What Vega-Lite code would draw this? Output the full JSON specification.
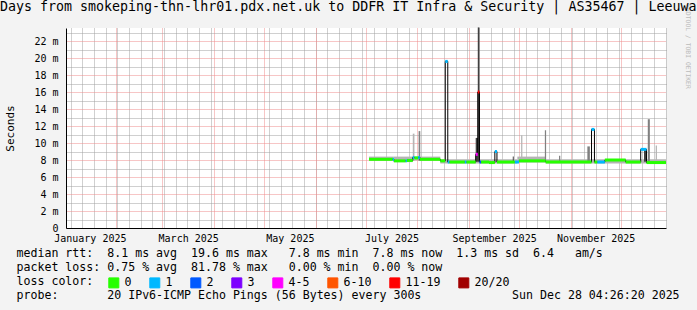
{
  "$schema": "https://vega.github.io/schema/vega-lite/v6.json",
  "width": 600,
  "height": 200,
  "autosize": {"type": "none"},
  "padding": {"left": 66, "top": 28, "right": 31, "bottom": 82},
  "background": "#f3f3f3",
  "config": {
    "view": {"fill": "white", "stroke": null},
    "font": "DejaVu Sans Mono",
    "axis": {"labelFont": "DejaVu Sans Mono", "titleFont": "DejaVu Sans Mono", "labelColor": "black", "titleColor": "black", "titleFontWeight": "normal", "labelFontSize": 10}
  },
  "title": {
    "text": "Days from smokeping-thn-lhr01.pdx.net.uk to DDFR IT Infra & Security | AS35467 | Leeuwarden",
    "anchor": "start", "frame": "group", "dx": -66, "dy": 25, "offset": 4,
    "font": "DejaVu Sans Mono", "fontSize": 13.3, "fontWeight": "normal", "color": "black", "baseline": "alphabetic"
  },
  "resolve": {"axis": {"x": "independent", "y": "independent"}},
  "datasets": {
    "smoke": [
      {"t": "2025-07-03T00:00", "t2": "2025-07-17T12:00", "lo": 0.00795, "hi": 0.0084, "shade": "light"},
      {"t": "2025-07-17T12:00", "t2": "2025-07-29T06:00", "lo": 0.00775, "hi": 0.0084, "shade": "light"},
      {"t": "2025-07-29T06:00", "t2": "2025-08-14T18:00", "lo": 0.00795, "hi": 0.0084, "shade": "light"},
      {"t": "2025-08-14T18:00", "t2": "2025-09-30T00:00", "lo": 0.0076, "hi": 0.0081, "shade": "light"},
      {"t": "2025-09-30T00:00", "t2": "2025-10-17T00:00", "lo": 0.0077, "hi": 0.0084, "shade": "light"},
      {"t": "2025-10-17T00:00", "t2": "2025-12-28T04:26", "lo": 0.0076, "hi": 0.0081, "shade": "light"},
      {"t": "2025-07-29T06:00", "t2": "2025-07-30T06:00", "lo": 0.0079, "hi": 0.0111, "shade": "light"},
      {"t": "2025-08-01T18:00", "t2": "2025-08-02T18:00", "lo": 0.0079, "hi": 0.0114, "shade": "mid"},
      {"t": "2025-09-05T00:00", "t2": "2025-09-07T06:00", "lo": 0.0078, "hi": 0.0106, "shade": "dark"},
      {"t": "2025-09-06T06:00", "t2": "2025-09-07T06:00", "lo": 0.008, "hi": 0.0236, "shade": "dark"},
      {"t": "2025-09-27T06:00", "t2": "2025-09-27T20:00", "lo": 0.0078, "hi": 0.0084, "shade": "dark"},
      {"t": "2025-10-02T06:00", "t2": "2025-10-03T00:00", "lo": 0.0078, "hi": 0.0109, "shade": "light"},
      {"t": "2025-10-16T12:00", "t2": "2025-10-17T06:00", "lo": 0.0078, "hi": 0.0115, "shade": "mid"},
      {"t": "2025-10-25T00:00", "t2": "2025-10-25T18:00", "lo": 0.0078, "hi": 0.0085, "shade": "mid"},
      {"t": "2025-11-11T00:00", "t2": "2025-11-12T12:00", "lo": 0.0078, "hi": 0.0096, "shade": "mid"},
      {"t": "2025-12-15T00:00", "t2": "2025-12-16T12:00", "lo": 0.0078, "hi": 0.0092, "shade": "dark"},
      {"t": "2025-12-17T06:00", "t2": "2025-12-18T12:00", "lo": 0.0078, "hi": 0.0128, "shade": "mid"},
      {"t": "2025-12-22T00:00", "t2": "2025-12-22T18:00", "lo": 0.0078, "hi": 0.0097, "shade": "light"}
    ],
    "median": [
      {"t": "2025-07-03T00:00", "t2": "2025-07-17T06:00", "rtt": 0.00808, "loss": "0"},
      {"t": "2025-07-17T06:00", "t2": "2025-07-18T00:00", "rtt": 0.00808, "loss": "1"},
      {"t": "2025-07-18T00:00", "t2": "2025-07-25T00:00", "rtt": 0.0079, "loss": "0"},
      {"t": "2025-07-25T00:00", "t2": "2025-07-25T18:00", "rtt": 0.0079, "loss": "1"},
      {"t": "2025-07-25T18:00", "t2": "2025-07-29T06:00", "rtt": 0.00795, "loss": "0"},
      {"t": "2025-07-29T06:00", "t2": "2025-07-30T06:00", "rtt": 0.0083, "loss": "1"},
      {"t": "2025-07-30T06:00", "t2": "2025-08-01T12:00", "rtt": 0.00825, "loss": "0"},
      {"t": "2025-08-01T12:00", "t2": "2025-08-02T12:00", "rtt": 0.0083, "loss": "1"},
      {"t": "2025-08-02T12:00", "t2": "2025-08-14T18:00", "rtt": 0.00808, "loss": "0"},
      {"t": "2025-08-14T18:00", "t2": "2025-08-17T18:00", "rtt": 0.0079, "loss": "0"},
      {"t": "2025-08-17T18:00", "t2": "2025-08-19T06:00", "rtt": 0.0196, "loss": "1"},
      {"t": "2025-08-19T06:00", "t2": "2025-08-20T06:00", "rtt": 0.00776, "loss": "1"},
      {"t": "2025-08-20T06:00", "t2": "2025-08-29T12:00", "rtt": 0.00776, "loss": "0"},
      {"t": "2025-08-29T12:00", "t2": "2025-08-30T12:00", "rtt": 0.00776, "loss": "1"},
      {"t": "2025-08-30T12:00", "t2": "2025-09-05T00:00", "rtt": 0.00776, "loss": "0"},
      {"t": "2025-09-05T00:00", "t2": "2025-09-06T06:00", "rtt": 0.00867, "loss": "4-5"},
      {"t": "2025-09-06T06:00", "t2": "2025-09-07T06:00", "rtt": 0.016, "loss": "11-19"},
      {"t": "2025-09-07T06:00", "t2": "2025-09-08T06:00", "rtt": 0.00776, "loss": "2"},
      {"t": "2025-09-08T06:00", "t2": "2025-09-13T00:00", "rtt": 0.00776, "loss": "0"},
      {"t": "2025-09-13T00:00", "t2": "2025-09-16T12:00", "rtt": 0.0077, "loss": "0"},
      {"t": "2025-09-16T12:00", "t2": "2025-09-17T18:00", "rtt": 0.009, "loss": "1"},
      {"t": "2025-09-17T18:00", "t2": "2025-09-28T12:00", "rtt": 0.00776, "loss": "0"},
      {"t": "2025-09-28T12:00", "t2": "2025-10-01T00:00", "rtt": 0.00776, "loss": "1"},
      {"t": "2025-10-01T00:00", "t2": "2025-10-17T00:00", "rtt": 0.0079, "loss": "0"},
      {"t": "2025-10-17T00:00", "t2": "2025-11-13T12:00", "rtt": 0.00776, "loss": "0"},
      {"t": "2025-11-13T12:00", "t2": "2025-11-15T06:00", "rtt": 0.0116, "loss": "1"},
      {"t": "2025-11-15T06:00", "t2": "2025-11-17T00:00", "rtt": 0.00776, "loss": "0"},
      {"t": "2025-11-17T00:00", "t2": "2025-11-21T12:00", "rtt": 0.00776, "loss": "1"},
      {"t": "2025-11-21T12:00", "t2": "2025-12-04T00:00", "rtt": 0.008, "loss": "0"},
      {"t": "2025-12-04T00:00", "t2": "2025-12-13T00:00", "rtt": 0.00776, "loss": "0"},
      {"t": "2025-12-13T00:00", "t2": "2025-12-16T12:00", "rtt": 0.00925, "loss": "1"},
      {"t": "2025-12-16T12:00", "t2": "2025-12-28T04:00", "rtt": 0.0077, "loss": "0"},
      {"t": "2025-12-28T04:00", "t2": "2025-12-28T04:26", "rtt": 0.0077, "loss": "0"}
    ]
  },
  "layer": [
    {
      "data": {"name": "smoke"},
      "mark": {"type": "rect"},
      "encoding": {
        "x": {"field": "t", "type": "temporal",
          "scale": {"domain": [{"year": 2025, "month": 1, "date": 2, "hours": 4, "minutes": 26, "seconds": 20}, {"year": 2025, "month": 12, "date": 28, "hours": 4, "minutes": 26, "seconds": 20}]},
          "axis": {"orient": "bottom", "grid": true, "gridColor": "#a0a0a0", "gridDash": [1, 1], "tickCount": {"interval": "week", "step": 1}, "labels": false, "ticks": false, "domain": false, "title": null}},
        "x2": {"field": "t2"},
        "y": {"field": "lo", "type": "quantitative", "scale": {"domain": [0, 0.02353], "nice": false},
          "axis": {"orient": "right", "grid": true, "gridColor": "#a0a0a0", "gridDash": [1, 1],
            "values": [0.001, 0.003, 0.005, 0.007, 0.009, 0.011, 0.013, 0.015, 0.017, 0.019, 0.021, 0.023],
            "labels": false, "ticks": false, "domain": false,
            "title": "RRDTOOL / TOBI OETIKER", "titleColor": "#bbbbbb", "titleFontSize": 6.4, "titleAngle": 90, "titleX": 21, "titleY": 18, "titleAlign": "center", "titleBaseline": "middle"}},
        "y2": {"field": "hi"},
        "fill": {"field": "shade", "type": "nominal", "scale": {"domain": ["light", "mid", "dark"], "range": ["#b4b4b4", "#808080", "#404040"]}, "legend": null}
      }
    },
    {
      "data": {"name": "median"},
      "mark": {"type": "line", "interpolate": "step-after", "color": "black", "strokeWidth": 1},
      "encoding": {
        "x": {"field": "t", "type": "temporal",
          "axis": {"orient": "bottom", "grid": true, "gridColor": "#ee8c8c", "gridDash": [1, 1], "values": [{"year": 2025, "month": 2, "date": 1}, {"year": 2025, "month": 3, "date": 1}, {"year": 2025, "month": 4, "date": 1}, {"year": 2025, "month": 5, "date": 1}, {"year": 2025, "month": 6, "date": 1}, {"year": 2025, "month": 7, "date": 1}, {"year": 2025, "month": 8, "date": 1}, {"year": 2025, "month": 9, "date": 1}, {"year": 2025, "month": 10, "date": 1}, {"year": 2025, "month": 11, "date": 1}, {"year": 2025, "month": 12, "date": 1}], "labels": false, "ticks": false, "domain": false, "title": null}},
        "y": {"field": "rtt", "type": "quantitative", "scale": {"domain": [0, 0.02353], "nice": false},
          "axis": {"orient": "left", "grid": true, "gridColor": "#ee8c8c", "gridDash": [1, 1],
            "values": [0, 0.002, 0.004, 0.006, 0.008, 0.01, 0.012, 0.014, 0.016, 0.018, 0.02, 0.022],
            "labelExpr": "datum.value == 0 ? '0\u00a0\u00a0' : format(datum.value*1000, 'd') + ' m'",
            "labelFontSize": 10, "labelPadding": 8, "ticks": false, "domain": true, "domainColor": "black",
            "title": "Seconds", "titleFontSize": 11, "titleX": -56, "titleY": 100, "titleAngle": -90, "titleAlign": "center", "titleBaseline": "middle"}}
      }
    },
    {
      "data": {"name": "median"},
      "mark": {"type": "rule", "strokeWidth": 3},
      "encoding": {
        "x": {"field": "t", "type": "temporal",
          "axis": {"orient": "bottom", "grid": false, "ticks": false, "domain": true, "domainColor": "black",
            "values": [{"year": 2025, "month": 1, "date": 16, "hours": 12}, {"year": 2025, "month": 3, "date": 16, "hours": 12}, {"year": 2025, "month": 5, "date": 16, "hours": 12}, {"year": 2025, "month": 7, "date": 16, "hours": 12}, {"year": 2025, "month": 9, "date": 16}, {"year": 2025, "month": 11, "date": 16}],
            "format": "%B %Y", "labelFlush": false, "labelPadding": 5, "labelFontSize": 10, "labelOverlap": false,
            "title": [
              "median\u00a0rtt:\u00a0\u00a08.1\u00a0ms\u00a0avg\u00a0\u00a019.6\u00a0ms\u00a0max\u00a0\u00a0\u00a07.8\u00a0ms\u00a0min\u00a0\u00a07.8\u00a0ms\u00a0now\u00a0\u00a01.3\u00a0ms\u00a0sd\u00a0\u00a06.4\u00a0\u00a0\u00a0am/s",
              "packet\u00a0loss:\u00a00.75\u00a0%\u00a0avg\u00a0\u00a081.78\u00a0%\u00a0max\u00a0\u00a0\u00a00.00\u00a0%\u00a0min\u00a0\u00a00.00\u00a0%\u00a0now",
              "loss\u00a0color:",
              "probe:\u00a0\u00a0\u00a0\u00a0\u00a0\u00a0\u00a020\u00a0IPv6-ICMP\u00a0Echo\u00a0Pings\u00a0(56\u00a0Bytes)\u00a0every\u00a0300s\u00a0\u00a0\u00a0\u00a0\u00a0\u00a0\u00a0\u00a0\u00a0\u00a0\u00a0\u00a0\u00a0Sun\u00a0Dec\u00a028\u00a004:26:20\u00a02025"
            ],
            "titleFontSize": 11.6, "titleX": -50, "titleY": 19, "titleAlign": "left", "titleAnchor": "start", "titleBaseline": "top", "titleLineHeight": 14, "titleLimit": 2000}},
        "x2": {"field": "t2"},
        "y": {"field": "rtt", "type": "quantitative", "axis": null},
        "color": {"field": "loss", "type": "nominal",
          "scale": {"domain": ["0", "1", "2", "3", "4-5", "6-10", "11-19", "20/20"], "range": ["#26ff00", "#00b8ff", "#0059ff", "#7e00ff", "#ff00ff", "#ff5500", "#ff0000", "#a10000"]},
          "legend": {"orient": "none", "legendX": 42, "legendY": 249, "direction": "horizontal", "title": null,
            "symbolType": "square", "symbolSize": 100, "symbolStrokeColor": "black", "symbolStrokeWidth": 1,
            "labelFont": "DejaVu Sans Mono", "labelFontSize": 11.6, "labelColor": "black", "labelOffset": 5, "columnPadding": 15, "padding": 0,
            "encode": {"symbols": {"update": {"fill": {"scale": "color", "field": "value"}, "stroke": {"value": "black"}, "fillOpacity": {"value": 1}, "opacity": {"value": 1}, "strokeWidth": {"value": 1}}}}}}
      }
    }
  ]
}
